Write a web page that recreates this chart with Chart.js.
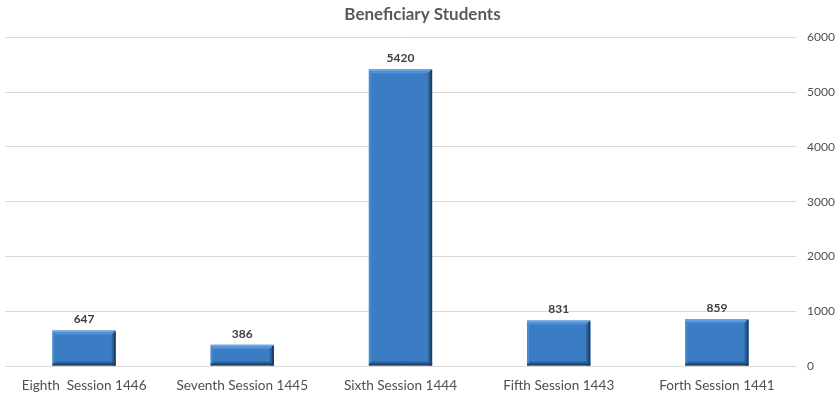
<!DOCTYPE html>
<html>
<head>
<meta charset="utf-8">
<script src="https://cdn.jsdelivr.net/npm/chart.js@4/dist/chart.umd.min.js"></script>
<style>
html,body{margin:0;padding:0;background:#fff}
#wrap{width:840px;height:396px}
</style>
</head>
<body>
<div id="wrap"><canvas id="c"></canvas></div>
<script>
const categories = ["Eighth  Session 1446","Seventh Session 1445","Sixth Session 1444","Fifth Session 1443","Forth Session 1441"]
const students = [647,386,5420,831,859]
const yTicks = [0,1000,2000,3000,4000,5000,6000]

const FONT = "Lato, 'Open Sans', sans-serif"

// bevel edges + value labels on top of each bar
const barDecor = {
  id:"barDecor",
  afterDatasetsDraw(chart){
    let ctx = chart.ctx
    let meta = chart.getDatasetMeta(0)
    meta.data.forEach((bar,i)=>{
      let l = bar.x - bar.width/2, r = bar.x + bar.width/2
      let t = bar.y, b = bar.base
      ctx.save()
      // top highlight
      ctx.fillStyle = "#6aa6e4"
      ctx.fillRect(l, t, r-l, 2)
      ctx.fillStyle = "#4f92d8"
      ctx.fillRect(l+2, t+2, r-l-4, 2)
      // left edge
      ctx.fillStyle = "#4a8ad0"
      ctx.fillRect(l, t+2, 2, b-t-2)
      // right edge dark
      ctx.fillStyle = "#2a5f98"
      ctx.fillRect(r-4, t+3, 2, b-t-3)
      ctx.fillStyle = "#1b3f66"
      ctx.fillRect(r-2, t+1, 2, b-t-1)
      // bottom edge dark
      ctx.fillStyle = "#2a5f98"
      ctx.fillRect(l+2, b-4, r-l-4, 2)
      ctx.fillStyle = "#1b3f66"
      ctx.fillRect(l, b-2, r-l, 2)
      // value
      ctx.fillStyle = "#404040"
      ctx.font = "bold 12px " + FONT
      ctx.textAlign = "center"
      ctx.textBaseline = "bottom"
      ctx.fillText(String(students[i]), bar.x, t-5)
      ctx.restore()
    })
  }
}

new Chart(document.getElementById("c"),{
  type:"bar",
  data:{
    labels:categories,
    datasets:[{
      label:"Beneficiary Students",
      data:students,
      backgroundColor:"#3a7dc4",
      borderWidth:0,
      barPercentage:1,
      categoryPercentage:0.4
    }]
  },
  options:{
    responsive:true,
    maintainAspectRatio:false,
    animation:false,
    layout:{padding:{left:5,right:0,top:0,bottom:0}},
    plugins:{
      legend:{display:false},
      tooltip:{enabled:false},
      title:{
        display:true,
        text:"Beneficiary Students",
        color:"#595959",
        font:{family:FONT,size:17,weight:"bold"},
        padding:{top:4,bottom:13}
      }
    },
    scales:{
      x:{
        grid:{display:false},
        border:{display:false},
        afterFit(axis){ axis.height = 30 },
        ticks:{color:"#505050",font:{family:FONT,size:13.6},padding:3,maxRotation:0,autoSkip:false}
      },
      y:{
        position:"right",
        min:0,
        max:6000,
        afterBuildTicks(axis){ axis.ticks = yTicks.map(v=>({value:v})) },
        afterFit(axis){ axis.width = 44 },
        grid:{color:"#d9d9d9",drawTicks:false},
        border:{display:false},
        ticks:{color:"#505050",font:{family:FONT,size:12},padding:11,callback:v=>String(v)}
      }
    }
  },
  plugins:[barDecor]
})
</script>
</body>
</html>
